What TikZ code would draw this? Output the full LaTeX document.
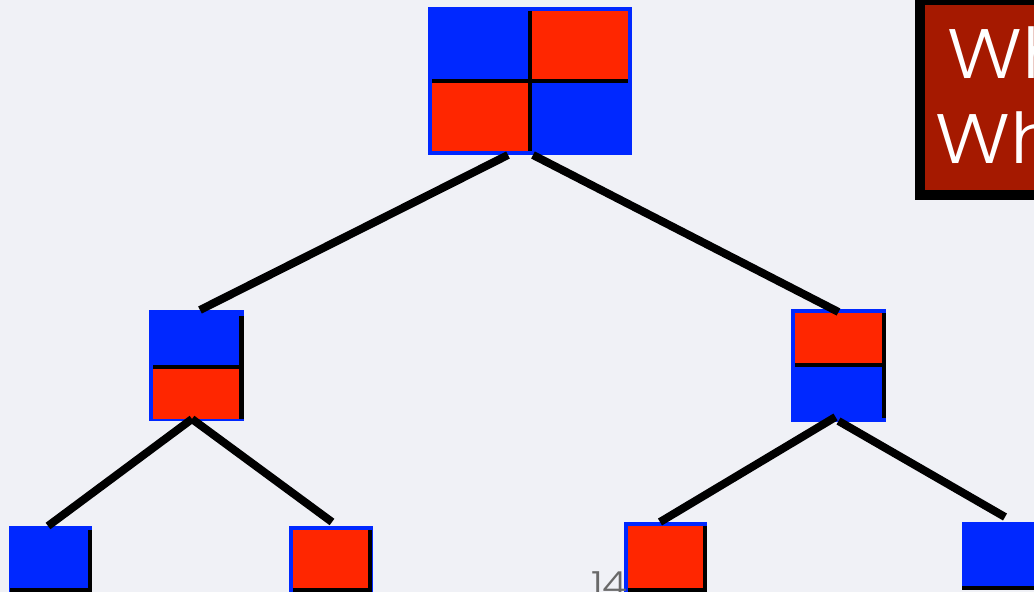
\documentclass[tikz,border=0pt]{standalone}
\usepackage{fontspec}
\IfFontExistsTF{Poppins Light}
  {\newfontfamily\slidefont[FakeStretch=1.12]{Poppins Light}}
  {\newfontfamily\slidefont[FakeStretch=1.12]{Poppins}}
\usetikzlibrary{positioning}
\definecolor{slideblue}{RGB}{0,40,255}
\definecolor{slidered}{RGB}{255,38,0}
\definecolor{boxred}{RGB}{165,25,0}
\definecolor{slidebg}{RGB}{240,241,246}
\definecolor{pagegray}{RGB}{105,105,105}

\begin{document}
\begin{tikzpicture}[x=1pt,y=-1pt,
  tile/.style={fill=slideblue,inner sep=0pt,outer sep=0pt},
  seam/.style={line width=4.5pt},
  branch/.style={line width=8pt}]
  \useasboundingbox (0,0) rectangle (1034,592);
  \clip (0,0) rectangle (1034,592);
  \fill[slidebg] (0,0) rectangle (1034,592);

  \node[tile,minimum width=204pt,minimum height=148pt] (root) at (530,81) {};
  \fill[slidered] (532,11) rectangle (628,81);
  \fill[slidered] (432,81) rectangle (530,151);
  \draw[seam] (432,81) -- (628,81);
  \draw[seam] (530,11) -- (530,151);

  \node[tile,minimum width=95pt,minimum height=111pt] (lmid) at (196.5,365.5) {};
  \fill[slidered] (153,367) rectangle (241,419);
  \draw[seam] (153,367) -- (241,367);
  \draw[seam] (241.5,316) -- (241.5,419);

  \node[tile,minimum width=95pt,minimum height=113pt] (rmid) at (838.5,365.5) {};
  \fill[slidered] (795,313) rectangle (884,365);
  \draw[seam] (795,365) -- (886,365);
  \draw[seam] (884,313) -- (884,418);

  \node[tile,minimum width=83pt,minimum height=68pt] (leafa) at (50.5,560) {};
  \draw[seam] (90,530) -- (90,592);
  \draw[seam] (10,590) -- (92,590);

  \node[tile,minimum width=84pt,minimum height=68pt] (leafb) at (331,560) {};
  \fill[slidered] (293,530) rectangle (370,590);
  \draw[seam] (370,530) -- (370,592);
  \draw[seam] (293,590) -- (372,590);

  \node[tile,minimum width=83pt,minimum height=72pt] (leafc) at (665.5,558) {};
  \fill[slidered] (628,526) rectangle (705,590);
  \draw[seam] (705,526) -- (705,592);
  \draw[seam] (628,590) -- (707,590);

  \node[tile,minimum width=84pt,minimum height=68pt] (leafd) at (1004,556) {};
  \draw[seam] (962,588) -- (1046,588);

  \draw[branch] ([xshift=-22pt]root.south) -- ([xshift=3.5pt]lmid.north);
  \draw[branch] ([xshift=3pt]root.south) -- ([yshift=-3pt]rmid.north);
  \draw[branch] ([xshift=-4.5pt,yshift=2pt]lmid.south) -- ([xshift=-2.5pt]leafa.north);
  \draw[branch] ([xshift=-4.5pt,yshift=2pt]lmid.south) -- ([xshift=1pt,yshift=4pt]leafb.north);
  \draw[branch] ([xshift=-3pt,yshift=5pt]rmid.south) -- ([xshift=-5.5pt]leafc.north);
  \draw[branch] ([xshift=0pt,yshift=1pt]rmid.south) -- ([xshift=1pt,yshift=5pt]leafd.north);

  \node[draw=black,line width=10pt,fill=boxred,inner sep=0pt,
    minimum width=130pt,minimum height=195pt] (title) at (985,97.5) {};
  \node[anchor=base west,text=white,inner sep=0pt,
    font=\slidefont\fontsize{70}{70}\selectfont] (titlea) at (947,78) {Wh};
  \node[anchor=base west,text=white,inner sep=0pt,
    font=\slidefont\fontsize{70}{70}\selectfont] (titleb) at (935,163) {Wh};

  \node[anchor=base west,text=pagegray,inner sep=0pt,
    font=\slidefont\fontsize{36}{36}\selectfont] (page) at (591,597) {14};
\end{tikzpicture}
\end{document}
